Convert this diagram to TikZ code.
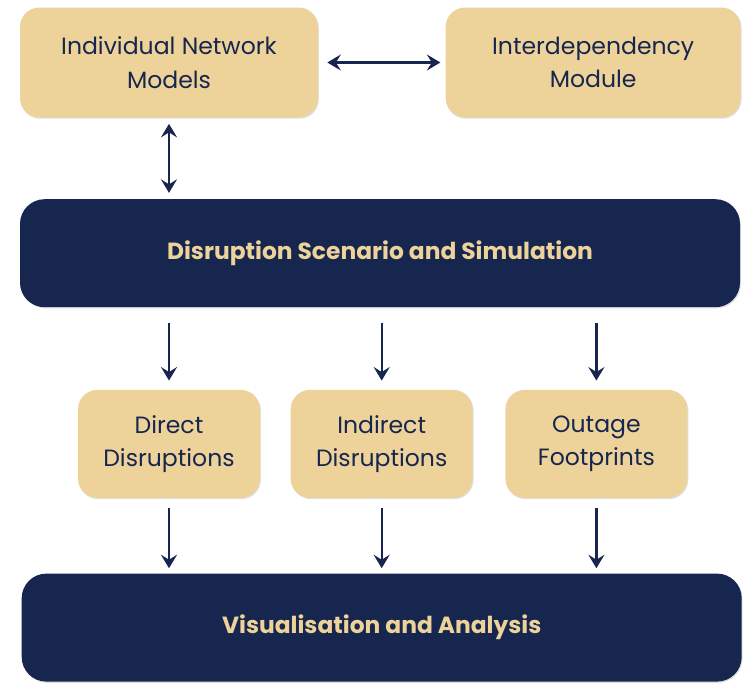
\documentclass[tikz,border=0pt]{standalone}
\usepackage{fontspec}
\setmainfont{Poppins}
\usepackage{tikz}
\usetikzlibrary{arrows.meta,positioning,shadows}

\definecolor{sand}{HTML}{EDD39A}
\definecolor{navy}{HTML}{17264E}

\begin{document}
\begin{tikzpicture}[
    node distance=1.62cm and 2.54cm,
    module/.style={rounded corners=11pt, fill=sand, text=navy, minimum width=5.96cm, minimum height=2.2cm, align=center, font=\fontsize{13.4}{19}\selectfont, drop shadow={opacity=0.25, shadow xshift=0.5pt, shadow yshift=-0.7pt}},
    outcome/.style={module, minimum width=3.64cm, minimum height=2.16cm},
    stage/.style={rounded corners=14pt, fill=navy, text=sand, minimum width=14.4cm, minimum height=2.16cm, align=center, font=\bfseries\fontsize{13.3}{15}\selectfont, drop shadow={opacity=0.25, shadow xshift=0.5pt, shadow yshift=-0.7pt}},
    flow/.style={-{Stealth[length=2.7mm, width=3.2mm, inset=1mm]}, line width=1.3pt, draw=navy},
    biflow/.style={flow, {Stealth[length=2.7mm, width=3.2mm, inset=1mm]}-{Stealth[length=2.7mm, width=3.2mm, inset=1mm]}}
]
\useasboundingbox (0,0) rectangle (14.94,-13.68);

% models
\node[module] (inm) at (3.38,-1.25) {Individual Network\\Models};
\node[module, right=of inm, minimum width=5.9cm] (idm) {Interdependency\\Module};

% simulation
\node[stage, below=1.62cm of inm.south west, anchor=north west] (scen) {Disruption Scenario and Simulation};

% outcomes
\node[outcome, below=1.64cm of scen, xshift=-4.22cm] (dir) {Direct\\Disruptions};
\node[outcome, right=0.6cm of dir] (ind) {Indirect\\Disruptions};
\node[outcome, right=0.64cm of ind] (out) {Outage\\Footprints};

\node[stage, below=1.5cm of ind] (vis) {Visualisation and Analysis};

\draw[biflow, shorten <=0.18cm, shorten >=0.1cm] (inm) -- (idm);
\draw[biflow, shorten <=0.12cm, shorten >=0.12cm] (inm.south) -- (inm.south |- scen.north);
\foreach \n in {dir,ind,out}
    \draw[flow, shorten <=0.3cm, shorten >=0.18cm] (scen.south -| \n.north) -- (\n.north);
\foreach \n in {dir,ind,out}
    \draw[flow, shorten <=0.2cm, shorten >=0.1cm] (\n.south) -- (vis.north -| \n.south);
\end{tikzpicture}
\end{document}
